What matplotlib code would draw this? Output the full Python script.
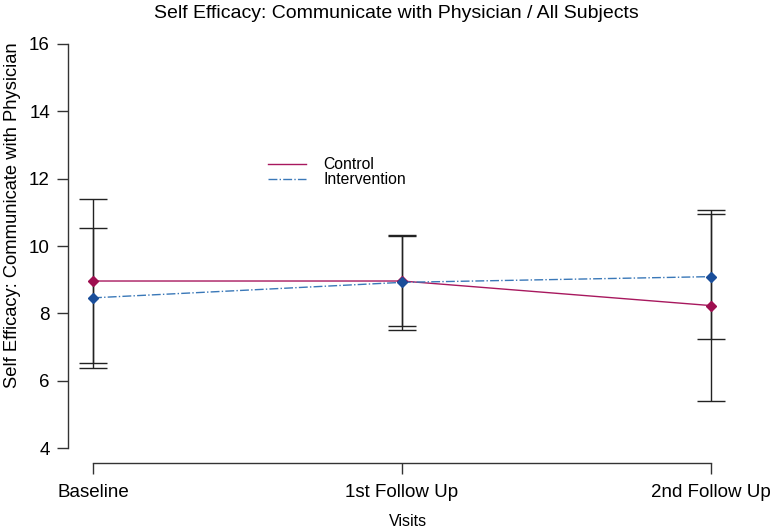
import numpy as np
import matplotlib
matplotlib.use('Agg')
from matplotlib import pyplot as plt

plt.rcParams['font.family'] = ['Liberation Sans', 'DejaVu Sans']

# 数据
visits = ['Baseline', '1st Follow Up', '2nd Follow Up']
control_mean = [8.96, 8.96, 8.23]
control_sd = [2.45, 1.34, 2.83]
interv_mean = [8.46, 8.92, 9.09]
interv_sd = [2.08, 1.42, 1.86]
y_ticks = [4, 6, 8, 10, 12, 14, 16]

W, H = 776, 529
fig = plt.figure(figsize=(W / 100, H / 100), dpi=100)
ax = fig.add_axes([68 / W, (H - 463) / H, (736 - 68) / W, (463 - 30) / H])

x = np.arange(len(visits))
ctrl_col = '#A8185E'
int_col = '#3A78B8'
mk_col = '#1A4E9A'

ax.errorbar(x, control_mean, yerr=control_sd, fmt='none', ecolor='#222222',
            elinewidth=1, capsize=10, capthick=1, zorder=2)
ax.errorbar(x, interv_mean, yerr=interv_sd, fmt='none', ecolor='#222222',
            elinewidth=1, capsize=10, capthick=1, zorder=2)
ax.plot(x, control_mean, color=ctrl_col, lw=1, label='Control', zorder=3)
ax.plot(x, interv_mean, color=int_col, lw=1, ls='-.', label='Intervention', zorder=3)
ax.plot(x, control_mean, ls='none', marker='D', ms=5.5, color='#9E0F50', zorder=4)
ax.plot(x, interv_mean, ls='none', marker='D', ms=5.5, color=mk_col, zorder=4)

ax.set_xlim(-25 / 309, 2 + 25 / 309)
ax.set_ylim(4 - 15 / 33.67, 16 + 14 / 33.67)

for s in ['top', 'right']:
    ax.spines[s].set_visible(False)
ax.spines['left'].set_bounds(4, 16)
ax.spines['bottom'].set_bounds(0, 2)
for s in ['left', 'bottom']:
    ax.spines[s].set_color('#333333')
    ax.spines[s].set_linewidth(1)

ax.set_yticks(y_ticks)
ax.set_yticklabels([str(v) for v in y_ticks], fontsize=13.5)
ax.set_xticks(x)
ax.set_xticklabels(visits, fontsize=13.5)
ax.tick_params(axis='both', length=8, width=1, color='#333333')
ax.tick_params(axis='y', pad=5)
ax.tick_params(axis='x', pad=7)

fig.text(396 / W, 1 - 14 / H, 'Self Efficacy: Communicate with Physician / All Subjects',
         ha='center', va='center', fontsize=14)
fig.text(13 / W, 1 - 215 / H, 'Self Efficacy: Communicate with Physician',
         ha='center', va='center', rotation=90, fontsize=13.2)
fig.text(408 / W, 1 - 521 / H, 'Visits', ha='center', va='center', fontsize=11.5)

leg = ax.legend(loc='upper left', bbox_to_anchor=((262 - 68) / (736 - 68), (463 - 151) / (463 - 30)),
                frameon=False, fontsize=11.3, handlelength=2.4, handletextpad=1.1,
                labelspacing=0.0, borderaxespad=0)

plt.savefig('out.png', dpi=100)
